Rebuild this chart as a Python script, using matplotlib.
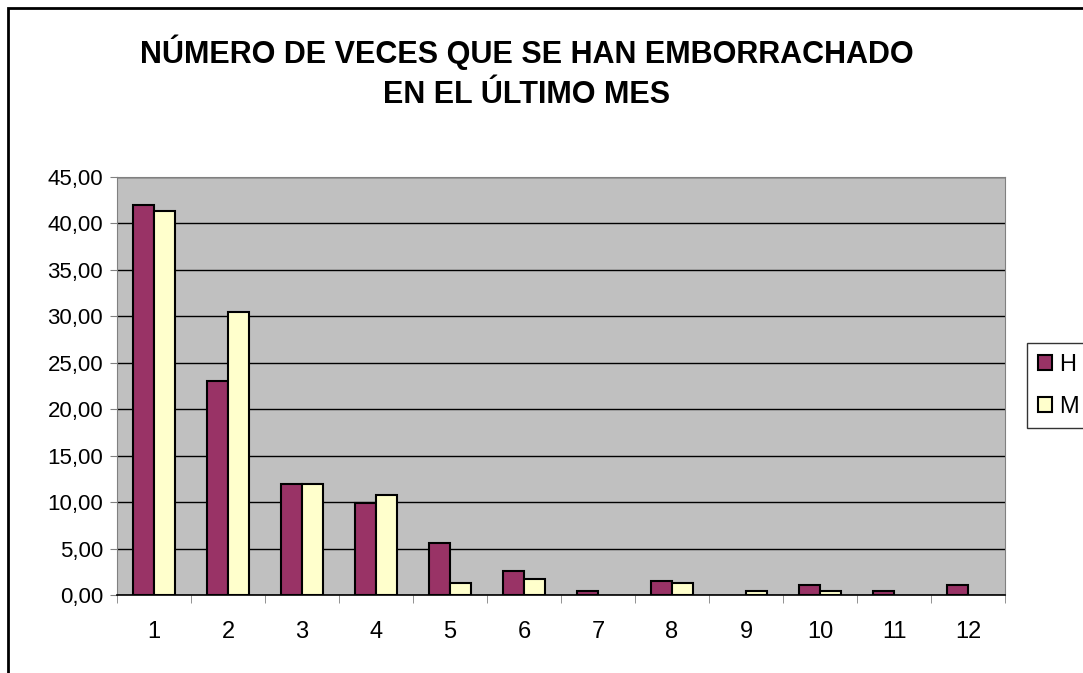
import matplotlib.pyplot as plt
import numpy as np
from matplotlib.patches import Rectangle

plt.rcParams['font.family'] = ['Liberation Sans', 'DejaVu Sans']

categorias = ["1", "2", "3", "4", "5", "6", "7", "8", "9", "10", "11", "12"]
hombres = [42.0, 23.0, 12.0, 9.9, 5.6, 2.6, 0.43, 1.5, 0.0, 1.08, 0.43, 1.08]
mujeres = [41.3, 30.5, 12.0, 10.8, 1.26, 1.7, 0.0, 1.26, 0.43, 0.43, 0.0, 0.0]
yticks = np.arange(0, 46, 5)

W, H = 1083, 673
fig = plt.figure(figsize=(W/100, H/100), dpi=100)
ax = fig.add_axes([117/W, 1-595/H, (1005-117)/W, (595-177)/H])

x = np.arange(len(categorias))
w = 0.285
ax.set_facecolor('#C0C0C0')
b1 = ax.bar(x - w/2, hombres, w, color='#993366', edgecolor='black', linewidth=1.5, label='H', zorder=3)
b2 = ax.bar(x + w/2, mujeres, w, color='#FFFFCC', edgecolor='black', linewidth=1.5, label='M', zorder=3)
# las barras con valor 0 no se dibujan
for bars, vals in [(b1, hombres), (b2, mujeres)]:
    for r, v in zip(bars, vals):
        if v == 0:
            r.set_visible(False)

ax.set_xlim(-0.5, len(categorias)-0.5)
ax.set_ylim(0, 45)
ax.set_yticks(yticks)
ax.yaxis.set_major_formatter(plt.FuncFormatter(lambda v, p: ("%.2f" % v).replace('.', ',')))
ax.grid(axis='y', color='black', linewidth=1, zorder=1)
ax.set_xticks(x)
ax.set_xticklabels(categorias)
ax.set_xticks(np.arange(-0.5, len(categorias), 1), minor=True)
ax.tick_params(axis='x', which='major', length=0, labelsize=17, pad=19)
ax.tick_params(axis='x', which='minor', length=6, direction='out', color='#808080')
ax.tick_params(axis='y', labelsize=16, length=5, direction='out', color='#808080', pad=5)
for s in ['top', 'right']:
    ax.spines[s].set_color('#808080')
ax.spines['left'].set_color('#808080')
ax.spines['bottom'].set_color('black')
ax.spines['bottom'].set_linewidth(1.2)

fig.text(527/W, 1-52/H, "NÚMERO DE VECES QUE SE HAN EMBORRACHADO", ha='center', va='center',
         fontsize=22, fontweight='bold')
fig.text(527/W, 1-95/H, "EN EL ÚLTIMO MES", ha='center', va='center',
         fontsize=22, fontweight='bold')

# marco del grafico
fig.patches.append(Rectangle((8/W, -0.05), 1.1, 1-8/H+0.05, transform=fig.transFigure,
                             fill=False, edgecolor='black', linewidth=2))

leg = fig.legend(loc='upper left', bbox_to_anchor=(1027/W, 1-343/H), fontsize=17,
                 frameon=True, fancybox=False, edgecolor='black', handlelength=0.6,
                 handleheight=0.6, handletextpad=0.3, borderpad=0.45, labelspacing=0.85,
                 borderaxespad=0)
leg.get_frame().set_linewidth(1)

fig.savefig('out.png', dpi=100)
